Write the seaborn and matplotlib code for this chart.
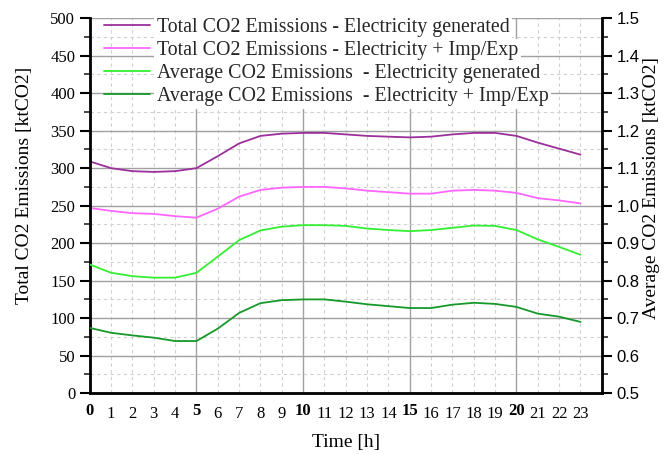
import numpy as np
import pandas as pd
import matplotlib
matplotlib.use("Agg")
import matplotlib.pyplot as plt
from matplotlib.ticker import MultipleLocator, FormatStrFormatter
import seaborn as sns

hours = list(range(24))

# Total emissions [ktCO2] (left axis)
total_generated = [309, 300, 296, 295, 296, 300, 316, 333, 343, 346, 347, 347,
                   345, 343, 342, 341, 342, 345, 347, 347, 343, 334, 326, 318]
total_imp_exp = [247, 243, 240, 239, 236, 234, 246, 262, 271, 274, 275, 275,
                 273, 270, 268, 266, 266, 270, 271, 270, 267, 260, 257, 253]

# Average emissions [ktCO2] (right axis)
avg_generated = [0.843, 0.821, 0.812, 0.808, 0.808, 0.821, 0.864, 0.908, 0.934,
                 0.944, 0.948, 0.948, 0.946, 0.939, 0.935, 0.932, 0.935, 0.941,
                 0.947, 0.946, 0.935, 0.910, 0.890, 0.869]
avg_imp_exp = [0.674, 0.661, 0.654, 0.648, 0.639, 0.639, 0.672, 0.714, 0.740,
               0.748, 0.750, 0.750, 0.744, 0.737, 0.732, 0.727, 0.727, 0.736,
               0.741, 0.738, 0.730, 0.712, 0.704, 0.690]

labels = ["Total CO2 Emissions - Electricity generated",
          "Total CO2 Emissions - Electricity + Imp/Exp",
          "Average CO2 Emissions  - Electricity generated",
          "Average CO2 Emissions  - Electricity + Imp/Exp"]
colors = ["#9b2f9b", "#ff66ff", "#33ee33", "#16992a"]

sns.set_theme(style="white")
plt.rcParams["font.family"] = ["Liberation Serif", "DejaVu Serif"]

fig = plt.figure(figsize=(6.65, 4.54), dpi=100)
ax = fig.add_axes([0.135, 0.134, 0.770, 0.826])
ax2 = ax.twinx()

left = pd.DataFrame({"hour": hours, "gen": total_generated, "imp": total_imp_exp})
right = pd.DataFrame({"hour": hours, "gen": avg_generated, "imp": avg_imp_exp})

sns.lineplot(data=left, x="hour", y="gen", ax=ax, color=colors[0], lw=1.3, label=labels[0], legend=False)
sns.lineplot(data=left, x="hour", y="imp", ax=ax, color=colors[1], lw=1.3, label=labels[1], legend=False)
sns.lineplot(data=right, x="hour", y="gen", ax=ax2, color=colors[2], lw=1.3, label=labels[2], legend=False)
sns.lineplot(data=right, x="hour", y="imp", ax=ax2, color=colors[3], lw=1.3, label=labels[3], legend=False)

ax.set_xlim(0, 24)
ax.set_ylim(0, 500)
ax2.set_ylim(0.5, 1.5)

# x ticks: every hour labelled, every fifth hour bold with a solid gridline
ax.set_xticks([h for h in hours if h % 5 == 0])
ax.set_xticks([h for h in hours if h % 5 != 0], minor=True)
ax.xaxis.set_major_formatter(FormatStrFormatter("%d"))
ax.xaxis.set_minor_formatter(FormatStrFormatter("%d"))

ax.yaxis.set_major_locator(MultipleLocator(50))
ax.yaxis.set_minor_locator(MultipleLocator(25))
ax2.yaxis.set_major_locator(MultipleLocator(0.1))
ax2.yaxis.set_minor_locator(MultipleLocator(0.05))
ax2.yaxis.set_major_formatter(FormatStrFormatter("%.1f"))

ax.grid(which="major", color="#a0a0a0", lw=1.0, ls="-")
ax.grid(which="minor", color="#d0d0d0", lw=0.8, ls=(0, (3, 3)))
ax2.grid(False)
ax.set_axisbelow(True)

ax.tick_params(axis="x", which="major", direction="inout", length=8, width=1.5,
               labelsize=12, pad=3, colors="black")
ax.tick_params(axis="x", which="minor", direction="out", length=4, width=1.2,
               labelsize=12, pad=5, colors="black")
ax.tick_params(axis="y", which="major", direction="out", length=7, width=1.5,
               labelsize=12, colors="black", left=True)
ax.tick_params(axis="y", which="minor", direction="out", length=4, width=1.2, left=True)
ax2.tick_params(axis="y", which="major", direction="out", length=7, width=1.5,
                labelsize=12, colors="black", right=True)
ax2.tick_params(axis="y", which="minor", direction="out", length=4, width=1.2, right=True)

for lab in ax.get_xticklabels():
    lab.set_fontweight("bold")
for lab in ax2.get_yticklabels():
    lab.set_fontfamily(["Liberation Sans", "DejaVu Sans"])

for a in (ax, ax2):
    for s in a.spines.values():
        s.set_visible(False)
for s in (ax.spines["left"], ax.spines["bottom"], ax2.spines["right"]):
    s.set_visible(True)
    s.set_linewidth(2)
    s.set_color("black")

ax.set_xlabel("Time [h]", fontsize=14, labelpad=9, color="black")
ax.set_ylabel("Total CO2 Emissions [ktCO2]", fontsize=14, color="black")
ax2.set_ylabel("Average CO2 Emissions [ktCO2]", fontsize=14, color="black")
ax.yaxis.set_label_coords(-0.110, 0.555)
ax2.yaxis.set_label_coords(1.080, 0.547)

h1, l1 = ax.get_legend_handles_labels()
h2, l2 = ax2.get_legend_handles_labels()
leg = ax2.legend(h1 + h2, l1 + l2, loc="upper left", bbox_to_anchor=(0.02, 1.01),
                 frameon=False, fontsize=14.3, handlelength=2.3, handletextpad=0.35,
                 labelspacing=0.2, borderpad=0.2, borderaxespad=0.0)
# only the legend texts get a white background, the grid stays visible around them
for t in leg.get_texts():
    t.set_bbox(dict(facecolor="white", edgecolor="none", pad=2.0))

fig.savefig("out.png", dpi=100)
